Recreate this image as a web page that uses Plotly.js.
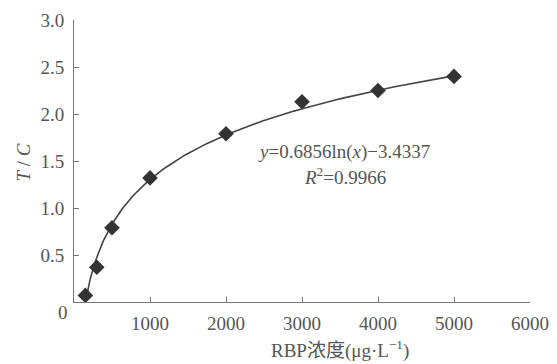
<!DOCTYPE html>
<html>
<head>
<meta charset="utf-8">
<script src="https://cdn.plot.ly/plotly-3.0.1.min.js"></script>
<style>html,body{margin:0;padding:0;background:#fff;}#chart{width:557px;height:364px;}</style>
</head>
<body>
<div id="chart"></div>
<script>
// Data
const concentration = [150, 300, 500, 1000, 2000, 3000, 4000, 5000];
const ratioTC = [0.07, 0.37, 0.79, 1.32, 1.79, 2.13, 2.25, 2.40];
// Logarithmic fit shown on the chart: y = a*ln(x) + b
const fitA = 0.6856;
const fitB = -3.4337;
const fitStart = 150, fitEnd = 5050, fitSteps = 120;
const xTickVals = [1000, 2000, 3000, 4000, 5000, 6000];
const yTickVals = [0.5, 1.0, 1.5, 2.0, 2.5, 3.0];
const yTickText = ['0.5', '1.0', '1.5', '2.0', '2.5', '3.0'];

const fitX = [], fitY = [];
for (let i = 0; i <= fitSteps; i++) {
  const x = fitStart * Math.pow(fitEnd / fitStart, i / fitSteps);
  fitX.push(x);
  fitY.push(fitA * Math.log(x) + fitB);
}

const textColor = '#555';
const serif = '"Liberation Serif", "Times New Roman", serif';
const fs = 19;

const traces = [
  {x: fitX, y: fitY, mode: 'lines', line: {color: '#444', width: 1.6}, hoverinfo: 'skip'},
  {x: concentration, y: ratioTC, mode: 'markers',
   marker: {symbol: 'diamond', size: 12, color: '#333'}}
];

const layout = {
  width: 557, height: 364,
  margin: {l: 74, r: 27, t: 20, b: 62},
  paper_bgcolor: '#fff', plot_bgcolor: '#fff',
  showlegend: false,
  font: {family: serif, size: fs, color: textColor},
  xaxis: {
    range: [0, 6000], tickvals: xTickVals, ticks: 'inside', ticklen: 5, tickwidth: 1,
    tickcolor: '#777', showline: true, linecolor: '#777', linewidth: 1,
    showgrid: false, zeroline: false, fixedrange: true, ticklabelstandoff: 4,
    tickfont: {family: serif, size: fs, color: textColor}
  },
  yaxis: {
    range: [0, 3.0], tickvals: yTickVals, ticktext: yTickText, ticks: 'inside', ticklen: 5, tickwidth: 1,
    tickcolor: '#777', showline: true, linecolor: '#777', linewidth: 1,
    showgrid: false, zeroline: false, fixedrange: true, ticklabelstandoff: 5,
    tickfont: {family: serif, size: fs, color: textColor}
  },
  annotations: [
    {xref: 'paper', yref: 'paper', x: -0.11, y: 0.494, xanchor: 'center', yanchor: 'middle',
     textangle: -90, text: '<i>T</i> / <i>C</i>', showarrow: false,
     font: {family: serif, size: fs, color: textColor}},
    {xref: 'paper', yref: 'paper', x: -0.024, y: -0.037, xanchor: 'center', yanchor: 'middle',
     text: '0', showarrow: false, font: {family: serif, size: fs, color: textColor}},
    {xref: 'x', yref: 'y', x: 3553, y: 1.60, xanchor: 'center', yanchor: 'middle',
     text: '<i>y</i>=0.6856ln(<i>x</i>)−3.4337', showarrow: false,
     font: {family: serif, size: fs, color: textColor}},
    {xref: 'x', yref: 'y', x: 3570, y: 1.34, xanchor: 'center', yanchor: 'middle',
     text: '<i>R</i><sup>2</sup>=0.9966', showarrow: false,
     font: {family: serif, size: fs, color: textColor}},
    {xref: 'paper', yref: 'paper', x: 0.583, y: -0.168, xanchor: 'center', yanchor: 'middle',
     text: 'RBP浓度(μg·L<sup>−1</sup>)', showarrow: false,
     font: {family: serif + ', "Noto Sans CJK SC"', size: 19, color: textColor}}
  ]
};

Plotly.newPlot('chart', traces, layout, {displayModeBar: false, staticPlot: true});
</script>
</body>
</html>
